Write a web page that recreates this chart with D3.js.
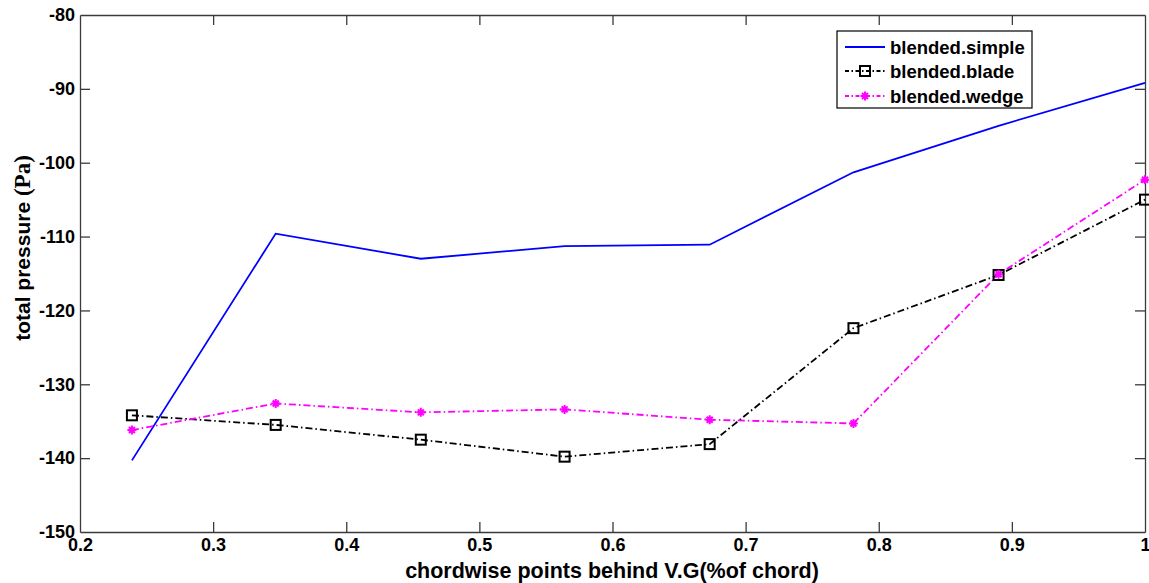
<!DOCTYPE html>
<html>
<head>
<meta charset="utf-8">
<script src="https://cdn.jsdelivr.net/npm/d3@7"></script>
<style>
  html, body { margin: 0; padding: 0; background: #fff; }
  svg { display: block; }
  text { font-family: Arial, "Liberation Sans", sans-serif; font-weight: bold; fill: #000; }
</style>
</head>
<body>
<svg id="chart" width="1149" height="583"></svg>
<script>
// Chordwise sample positions behind the vortex generator
const xPoints = [0.239, 0.347, 0.456, 0.564, 0.673, 0.781, 0.890, 1.000];

// Total pressure (Pa) for each configuration
const simpleVals = [-140.3, -109.6, -113.0, -111.3, -111.1, -101.3, -95.0, -89.2];
const bladeVals  = [-134.2, -135.5, -137.5, -139.8, -138.1, -122.4, -115.2, -105.0];
const wedgeVals  = [-136.2, -132.6, -133.8, -133.4, -134.8, -135.3, -115.1, -102.3];

const xTicks = [0.2, 0.3, 0.4, 0.5, 0.6, 0.7, 0.8, 0.9, 1];
const yTicks = [-80, -90, -100, -110, -120, -130, -140, -150];

const seriesNames = ["blended.simple", "blended.blade", "blended.wedge"];

const svg = d3.select("#chart");
const plotLeft = 80, plotRight = 1145, plotTop = 15, plotBottom = 532;

const x = d3.scaleLinear().domain([0.2, 1]).range([plotLeft, plotRight]);
const y = d3.scaleLinear().domain([-150, -80]).range([plotBottom, plotTop]);

const axisColor = "#3a3a3a";
const tickLen = 10;
const plain = d => String(d);

// Axes with inward ticks on all four sides
const gx = svg.append("g").attr("transform", `translate(0,${plotBottom})`)
  .call(d3.axisBottom(x).tickValues(xTicks).tickSizeInner(-tickLen).tickSizeOuter(0)
        .tickFormat(plain).tickPadding(6));
const gxTop = svg.append("g").attr("transform", `translate(0,${plotTop})`)
  .call(d3.axisTop(x).tickValues(xTicks).tickSizeInner(-tickLen).tickSizeOuter(0).tickFormat(""));
const gy = svg.append("g").attr("transform", `translate(${plotLeft},0)`)
  .call(d3.axisLeft(y).tickValues(yTicks).tickSizeInner(-tickLen).tickSizeOuter(0)
        .tickFormat(plain).tickPadding(5));
const gyRight = svg.append("g").attr("transform", `translate(${plotRight},0)`)
  .call(d3.axisRight(y).tickValues(yTicks).tickSizeInner(-tickLen).tickSizeOuter(0).tickFormat(""));

[gx, gxTop, gy, gyRight].forEach(g => {
  g.select(".domain").attr("stroke", axisColor).attr("stroke-width", 1.3);
  g.selectAll(".tick line").attr("stroke", axisColor).attr("stroke-width", 1.3);
  g.selectAll(".tick text").attr("font-size", 18).attr("font-weight", "bold")
    .attr("font-family", "Arial, 'Liberation Sans', sans-serif").attr("fill", "#000");
});

// Hide end ticks that coincide with the frame
[gx, gxTop].forEach(g => g.selectAll(".tick line").filter(d => d === 0.2 || d === 1).remove());
[gy, gyRight].forEach(g => g.selectAll(".tick line").filter(d => d === -80 || d === -150).remove());

// Axis titles
svg.append("text")
  .attr("x", 612).attr("y", 578)
  .attr("text-anchor", "middle").attr("font-size", 21.5)
  .text("chordwise points behind V.G(%of chord)");

const yTitle = svg.append("text")
  .attr("transform", `translate(30,248) rotate(-90)`)
  .attr("text-anchor", "middle").attr("font-size", 21);
yTitle.append("tspan").text("total pressure ");
yTitle.append("tspan").attr("font-family", "'Liberation Serif', 'Times New Roman', serif")
  .attr("font-size", 23).text("(Pa)");

// Lines
const line = d3.line().x((d, i) => x(xPoints[i])).y(d => y(d));
const dashDot = "7,3,1.5,3";

svg.append("path").datum(simpleVals).attr("d", line)
  .attr("fill", "none").attr("stroke", "#0000ff").attr("stroke-width", 1.8);

svg.append("path").datum(bladeVals).attr("d", line)
  .attr("fill", "none").attr("stroke", "#000").attr("stroke-width", 1.8)
  .attr("stroke-dasharray", dashDot);

svg.append("path").datum(wedgeVals).attr("d", line)
  .attr("fill", "none").attr("stroke", "#ff00ff").attr("stroke-width", 1.8)
  .attr("stroke-dasharray", dashDot);

// Markers
function squareMarker(g, cx, cy) {
  g.append("rect").attr("x", cx - 5).attr("y", cy - 5).attr("width", 10).attr("height", 10)
    .attr("fill", "none").attr("stroke", "#000").attr("stroke-width", 2);
}
function starMarker(g, cx, cy) {
  const s = 4.5;
  g.append("path")
    .attr("d", `M${cx - s},${cy}L${cx + s},${cy}M${cx},${cy - s}L${cx},${cy + s}` +
               `M${cx - 3},${cy - 3}L${cx + 3},${cy + 3}M${cx - 3},${cy + 3}L${cx + 3},${cy - 3}`)
    .attr("stroke", "#ff00ff").attr("stroke-width", 2);
  g.append("circle").attr("cx", cx).attr("cy", cy).attr("r", 2.5).attr("fill", "#ff00ff");
}

const bladeMarks = svg.append("g");
bladeVals.forEach((v, i) => squareMarker(bladeMarks, x(xPoints[i]), y(v)));
const wedgeMarks = svg.append("g");
wedgeVals.forEach((v, i) => starMarker(wedgeMarks, x(xPoints[i]), y(v)));

// Legend
const lg = svg.append("g");
lg.append("rect").attr("x", 837).attr("y", 31).attr("width", 195).attr("height", 77)
  .attr("fill", "#fff").attr("stroke", "#000").attr("stroke-width", 1.2);
const rows = [47, 71, 96];
const lx0 = 845, lx1 = 885;
lg.append("line").attr("x1", lx0).attr("x2", lx1).attr("y1", rows[0]).attr("y2", rows[0])
  .attr("stroke", "#0000ff").attr("stroke-width", 1.8);
lg.append("line").attr("x1", lx0).attr("x2", lx1).attr("y1", rows[1]).attr("y2", rows[1])
  .attr("stroke", "#000").attr("stroke-width", 1.8).attr("stroke-dasharray", "4,2.5,1.5,2.5");
squareMarker(lg, (lx0 + lx1) / 2, rows[1]);
lg.append("line").attr("x1", lx0).attr("x2", lx1).attr("y1", rows[2]).attr("y2", rows[2])
  .attr("stroke", "#ff00ff").attr("stroke-width", 1.8).attr("stroke-dasharray", "4,2.5,1.5,2.5");
starMarker(lg, (lx0 + lx1) / 2, rows[2]);
seriesNames.forEach((name, i) => {
  lg.append("text").attr("x", 890).attr("y", rows[i]).attr("dy", "0.36em")
    .attr("font-size", 18.5).text(name);
});
</script>
</body>
</html>
